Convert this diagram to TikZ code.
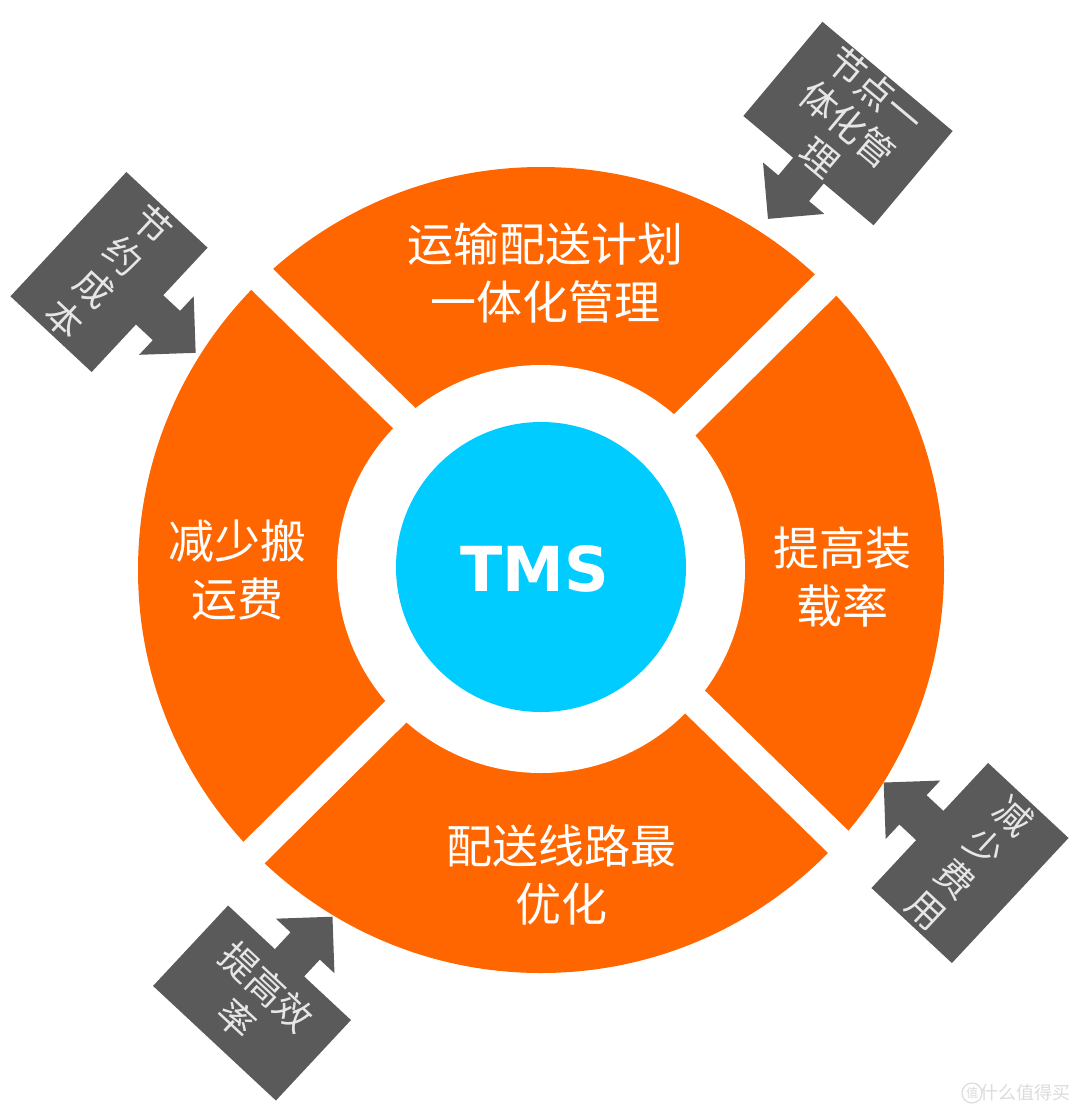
\documentclass[tikz,border=0pt]{standalone}
\usepackage{fontspec}
\newfontfamily\cjk{Noto Sans CJK SC}
\newfontfamily\tmsfont{DejaVu Sans}
\definecolor{ringorange}{HTML}{FF6600}
\definecolor{tmscyan}{HTML}{00CCFF}
\definecolor{callgray}{HTML}{5A5A5A}
\definecolor{calltext}{HTML}{E6E6E6}
\definecolor{wmgray}{HTML}{DCDCDC}
\newcommand\mycallout[2]{%
  \fill[callgray] (-#1,-#2) -- (#1,-#2) -- (#1,#2) -- (20,#2) -- ++(0,23) -- ++(20,0)
    -- ++(-40,40) -- ++(-40,-40) -- ++(20,0) -- ++(0,-23) -- (-#1,#2) -- cycle;}
\tikzset{
  segtext/.style={text=white, align=center, inner sep=0, font=\cjk\fontsize{46}{58}\selectfont},
  calltxt/.style={text=calltext, align=center, inner sep=0, font=\cjk\fontsize{37}{44}\selectfont},
  vcalltxt/.style={text=calltext, align=center, inner sep=0, font=\cjk\fontsize{37}{43}\selectfont},
  gapline/.style={line width=30pt, white},
  disc/.style={circle, inner sep=0},
}
\begin{document}
\begin{tikzpicture}[x=1pt,y=-1pt]
\useasboundingbox (0,0) rectangle (1080,1117);
\fill[white] (0,0) rectangle (1080,1117);
% ring
\node[disc, fill=ringorange, minimum size=806pt] (ring) at (541,570) {};
\node[disc, fill=white, minimum size=408pt] (hole) at (541,569) {};
\coordinate (g1a) at (883.8,227.2);
\coordinate (g1b) at (196.8,909.4);
\coordinate (g2a) at (204,222.6);
\coordinate (g2b) at (896.7,898.9);
\draw[gapline] (g1a) -- (g1b);
\draw[gapline] (g2a) -- (g2b);
% centre
\node[disc, fill=tmscyan, minimum size=290pt] (core) at (541,567) {};
\node[text=white, inner sep=0, font=\tmsfont\bfseries\fontsize{62}{62}\selectfont] (tms) at (535,569) {TMS};
% segment texts
\node[segtext] (plan) at (545,273) {运输配送计划\\一体化管理};
\node[segtext] (cost) at (237,570) {减少搬\\运费};
\node[segtext] (load) at (842,577) {提高装\\载率};
\node[segtext] (route) at (561,875) {配送线路最\\优化};
% callouts
\begin{scope}[shift={(848,123.5)}, rotate=-40]
  \mycallout{85}{61.5}
\end{scope}
\node[calltxt, rotate=-40] (node1) at (848,123.5) {节点一\\体化管\\理};
\begin{scope}[shift={(109,272)}, rotate=-43]
  \begin{scope}[rotate=90]\mycallout{85}{55.5}\end{scope}
\end{scope}
\node[vcalltxt, rotate=-43] (save) at (109,272) {节\\约\\成\\本};
\begin{scope}[shift={(970,863)}, rotate=-43]
  \begin{scope}[rotate=-90]\mycallout{85.5}{55}\end{scope}
\end{scope}
\node[vcalltxt, rotate=-43] (fee) at (970,863) {减\\少\\费\\用};
\begin{scope}[shift={(252,1003)}, rotate=-43]
  \begin{scope}[rotate=180]\mycallout{84}{55}\end{scope}
\end{scope}
\node[calltxt, rotate=-43] (eff) at (252,1003) {提高效\\率};
% watermark
\node[disc, draw=wmgray, line width=1.2pt, minimum size=20pt, text=wmgray, font=\cjk\fontsize{12}{12}\selectfont] (wmlogo) at (972,1093) {值};
\node[text=wmgray, anchor=west, inner sep=0, font=\cjk\fontsize{18}{18}\selectfont] (wmtext) at (980,1093) {什么值得买};
\end{tikzpicture}
\end{document}
